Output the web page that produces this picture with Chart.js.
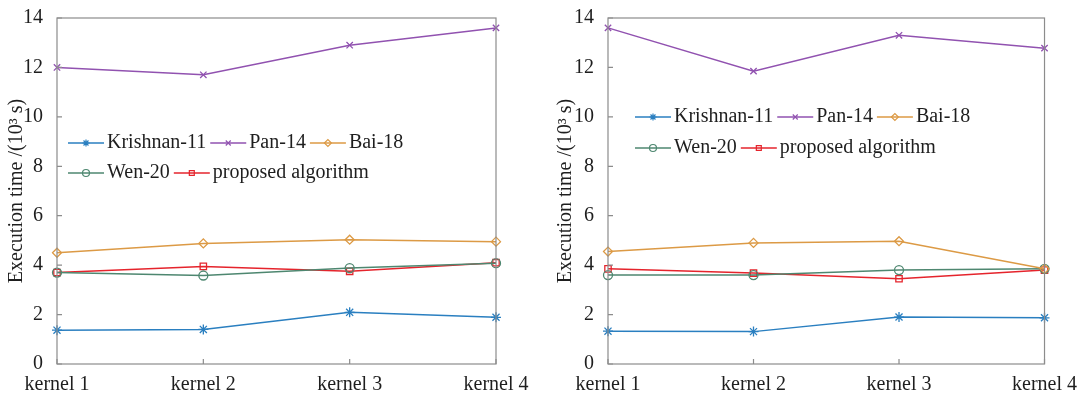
<!DOCTYPE html>
<html>
<head>
<meta charset="utf-8">
<script src="https://cdn.jsdelivr.net/npm/chart.js@4.4.1/dist/chart.umd.min.js"></script>
<style>
  html, body { margin: 0; padding: 0; background: #fff; }
  #wrap { display: flex; width: 1078px; height: 393px; }
  .cell { position: relative; width: 539px; height: 393px; }
</style>
</head>
<body>
<div id="wrap">
  <div class="cell"><canvas id="chart-left"></canvas></div>
  <div class="cell"><canvas id="chart-right"></canvas></div>
</div>
<script>
const kernels = ['kernel 1', 'kernel 2', 'kernel 3', 'kernel 4'];
const yTicks = [0, 2, 4, 6, 8, 10, 12, 14];

const seriesNames = ['Krishnan-11', 'Pan-14', 'Bai-18', 'Wen-20', 'proposed algorithm'];
const seriesColors = ['#2a7fc0', '#9152b0', '#dc9a45', '#4e8770', '#e5242c'];
const seriesMarkers = ['star', 'crossRot', 'rectRot', 'circle', 'rect'];

// left panel
const leftKrishnan = [1.37, 1.40, 2.09, 1.89];
const leftPan = [12.0, 11.7, 12.9, 13.6];
const leftBai = [4.50, 4.88, 5.03, 4.95];
const leftWen = [3.70, 3.58, 3.88, 4.08];
const leftProposed = [3.70, 3.95, 3.75, 4.10];

// right panel
const rightKrishnan = [1.33, 1.31, 1.90, 1.87];
const rightPan = [13.6, 11.85, 13.3, 12.78];
const rightBai = [4.55, 4.90, 4.97, 3.85];
const rightWen = [3.60, 3.60, 3.80, 3.85];
const rightProposed = [3.85, 3.68, 3.45, 3.80];

const FONT = '"Liberation Serif", "DejaVu Serif", serif';
const TEXT = '#1e1e1e';

function buildDatasets(values) {
    return values.map((data, i) => ({
        label: seriesNames[i],
        data: data,
        borderColor: seriesColors[i],
        backgroundColor: seriesColors[i],
        pointBackgroundColor: 'rgba(255,255,255,0)',
        pointBorderColor: seriesColors[i],
        pointStyle: seriesMarkers[i],
        pointRadius: seriesMarkers[i] === 'star' ? 5 : 4.5,
        pointBorderWidth: 1.3,
        borderWidth: 1.5,
        tension: 0
    }));
}

// frame around the plot and inward ticks
const boxPlugin = {
    id: 'boxFrame',
    afterDraw(chart) {
        const { ctx, chartArea: a, scales } = chart;
        ctx.save();
        ctx.strokeStyle = '#8c8c8c';
        ctx.lineWidth = 1.2;
        ctx.strokeRect(a.left, a.top, a.right - a.left, a.bottom - a.top);
        ctx.beginPath();
        scales.y.ticks.forEach(t => {
            const py = scales.y.getPixelForValue(t.value);
            ctx.moveTo(a.left, py);
            ctx.lineTo(a.left + 5, py);
        });
        kernels.forEach((k, i) => {
            const px = scales.x.getPixelForValue(i);
            ctx.moveTo(px, a.bottom);
            ctx.lineTo(px, a.bottom - 5);
        });
        ctx.stroke();
        ctx.restore();
    }
};

function drawMarker(ctx, style, color, x, y) {
    if (Chart.helpers && Chart.helpers.drawPoint) {
        ctx.strokeStyle = color;
        ctx.fillStyle = 'rgba(255,255,255,0)';
        ctx.lineWidth = 1.2;
        Chart.helpers.drawPoint(ctx, { pointStyle: style, radius: 3.5, rotation: 0, borderWidth: 1.2 }, x, y);
    }
}

// legend drawn inside the plot area in two rows
const innerLegend = {
    id: 'innerLegend',
    afterDraw(chart, args, opts) {
        const { ctx } = chart;
        const sets = chart.data.datasets;
        ctx.save();
        ctx.font = '20px ' + FONT;
        ctx.textBaseline = 'middle';
        opts.rows.forEach((row, r) => {
            let x = opts.x;
            const y = opts.y + r * opts.rowGap;
            row.forEach(idx => {
                const ds = sets[idx];
                ctx.strokeStyle = ds.borderColor;
                ctx.lineWidth = 1.5;
                ctx.beginPath();
                ctx.moveTo(x, y);
                ctx.lineTo(x + 36, y);
                ctx.stroke();
                drawMarker(ctx, ds.pointStyle, ds.borderColor, x + 18, y);
                ctx.fillStyle = TEXT;
                ctx.fillText(ds.label, x + 39, y);
                x += 39 + ctx.measureText(ds.label).width + 4;
            });
        });
        ctx.restore();
    }
};

function makeChart(id, values, yWidth, rightPad, titlePad, legendX, legendY, legendGap) {
    const ctx = document.getElementById(id).getContext('2d');
    return new Chart(ctx, {
        type: 'line',
        data: { labels: kernels, datasets: buildDatasets(values) },
        plugins: [boxPlugin, innerLegend],
        options: {
            responsive: false,
            animation: false,
            layout: { padding: { left: 0, right: rightPad, top: 16, bottom: 0 } },
            plugins: {
                legend: { display: false },
                tooltip: { enabled: false },
                innerLegend: { x: legendX, y: legendY, rowGap: legendGap, rows: [[0, 1, 2], [3, 4]] }
            },
            scales: {
                x: {
                    offset: false,
                    grid: { display: false },
                    border: { display: false },
                    ticks: { color: TEXT, font: { family: FONT, size: 20 }, padding: 1, maxRotation: 0 },
                    afterFit(scale) { scale.height = 29; }
                },
                y: {
                    min: 0,
                    max: 14,
                    afterBuildTicks(scale) { scale.ticks = yTicks.map(v => ({ value: v })); },
                    grid: { display: false },
                    border: { display: false },
                    ticks: { color: TEXT, font: { family: FONT, size: 20 }, padding: 6 },
                    title: {
                        display: true,
                        text: 'Execution time /(10³ s)',
                        color: TEXT,
                        font: { family: FONT, size: 20 },
                        padding: { top: titlePad, bottom: 2 }
                    },
                    afterFit(scale) { scale.width = yWidth; }
                }
            }
        }
    });
}

function init() {
    const l = document.getElementById('chart-left');
    const r = document.getElementById('chart-right');
    [l, r].forEach(c => { c.width = 539; c.height = 393; });
    makeChart('chart-left',
        [leftKrishnan, leftPan, leftBai, leftWen, leftProposed],
        57, 43, 5, 68, 143, 30);
    makeChart('chart-right',
        [rightKrishnan, rightPan, rightBai, rightWen, rightProposed],
        69, 33, 15, 96, 117, 31);
}

init();
</script>
</body>
</html>
